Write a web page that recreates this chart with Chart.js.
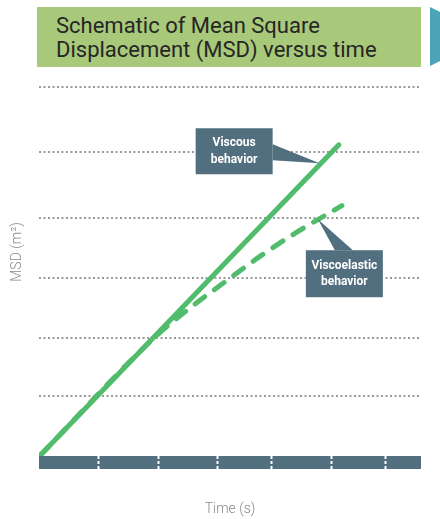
<!DOCTYPE html>
<html>
<head>
<meta charset="utf-8">
<script src="https://cdn.jsdelivr.net/npm/chart.js@4/dist/chart.umd.min.js"></script>
<style>
  html, body { margin: 0; padding: 0; background: #fff; }
  #wrap { position: relative; width: 440px; height: 519px; overflow: hidden; }
  #chart { position: absolute; left: 0; top: 0; }
  #title {
    position: absolute; left: 37px; top: 7px; width: 384px; height: 60px;
    background: #a8c87a; box-sizing: border-box; padding: 6.5px 0 0 19px;
    font-family: Roboto, "Open Sans", sans-serif; font-size: 22px; line-height: 24px;
    color: #262626; font-weight: 400;
  }
  #arrow {
    position: absolute; left: 430px; top: 7px; width: 60px; height: 59px;
    background: #4ba5b6; clip-path: polygon(0 0, 100% 50%, 0 100%);
  }
</style>
</head>
<body>
<div id="wrap">
  <canvas id="chart" width="440" height="519"></canvas>
  <div id="title">Schematic of Mean Square<br>Displacement (MSD) versus time</div>
  <div id="arrow"></div>
</div>
<script>
// ---- data (arbitrary schematic units) ----
const viscousTime = [0.03, 5.0];
const viscousMSD  = [0.02, 5.06];
const viscoelasticTime = [0.03, 1.93, 2.52, 3.10, 3.72, 4.30, 5.05];
const viscoelasticMSD  = [0.02, 1.93, 2.41, 2.83, 3.27, 3.64, 4.07];
const timeTicks = [1, 2, 2.98, 3.88, 4.88, 5.77];
const msdTicks  = [0.98, 1.92, 2.9, 3.87, 4.94, 6];
const timeMax = 6.37;
const msdMax = 6;
const annotationLabels = [["Viscous", "behavior"], ["Viscoelastic", "behavior"]];
const annotationTime = [4.68, 4.65];
const annotationMSD  = [4.76, 3.85];
const xTitle = "Time (s)";
const yTitle = "MSD (m²)";

const GREEN = "#50bc6c";
const SLATE = "#516f7f";

const toPoints = (xs, ys) => xs.map((x, i) => ({ x: x, y: ys[i] }));

// annotation geometry relative to the anchor (tip) in px
const annoGeom = [
  { box: [-124, -35, 77, 46], tail: [[-47, -19], [-47, -3]] },
  { box: [-12, 31, 77, 47], tail: [[17, 31], [35, 31]] }
];

const annotationPlugin = {
  id: "annos",
  afterDatasetsDraw(chart) {
    const ctx = chart.ctx;
    const xs = chart.scales.x, ys = chart.scales.y;
    ctx.save();
    annotationLabels.forEach((lines, i) => {
      const tx = xs.getPixelForValue(annotationTime[i]);
      const ty = ys.getPixelForValue(annotationMSD[i]);
      const g = annoGeom[i];
      ctx.fillStyle = SLATE;
      ctx.beginPath();
      ctx.moveTo(tx, ty);
      ctx.lineTo(tx + g.tail[0][0], ty + g.tail[0][1]);
      ctx.lineTo(tx + g.tail[1][0], ty + g.tail[1][1]);
      ctx.closePath();
      ctx.fill();
      const bx = tx + g.box[0], by = ty + g.box[1], bw = g.box[2], bh = g.box[3];
      ctx.fillRect(bx, by, bw, bh);
      ctx.fillStyle = "#ffffff";
      ctx.font = "bold 12px Roboto, sans-serif";
      ctx.textAlign = "center";
      ctx.textBaseline = "middle";
      const cx = bx + bw / 2, cy = by + bh / 2;
      ctx.fillText(lines[0], cx, cy - 8);
      ctx.fillText(lines[1], cx, cy + 8.5);
    });
    ctx.restore();
  }
};

const yTitlePlugin = {
  id: "ytitle",
  afterDraw(chart) {
    const ctx = chart.ctx;
    ctx.save();
    ctx.translate(17, 252);
    ctx.rotate(-Math.PI / 2);
    ctx.font = "300 14px Roboto, sans-serif";
    ctx.fillStyle = "#8a8a8a";
    ctx.textAlign = "center";
    ctx.textBaseline = "middle";
    ctx.fillText(yTitle, 0, 0);
    ctx.restore();
  }
};

new Chart(document.getElementById("chart"), {
  type: "scatter",
  data: {
    datasets: [
      {
        label: "Viscoelastic behavior",
        data: toPoints(viscoelasticTime, viscoelasticMSD),
        showLine: true,
        borderColor: GREEN,
        borderWidth: 5,
        borderDash: [12, 12],
        borderCapStyle: "round",
        cubicInterpolationMode: "monotone",
        pointRadius: 0,
        pointHoverRadius: 0
      },
      {
        label: "Viscous behavior",
        data: toPoints(viscousTime, viscousMSD),
        showLine: true,
        borderColor: GREEN,
        borderWidth: 5,
        borderCapStyle: "round",
        pointRadius: 0,
        pointHoverRadius: 0
      }
    ]
  },
  options: {
    responsive: false,
    animation: false,
    events: [],
    layout: { padding: { left: 39, right: 19, top: 87, bottom: 0 } },
    plugins: {
      legend: { display: false },
      tooltip: { enabled: false },
      title: {
        display: true,
        position: "bottom",
        fullSize: false,
        text: xTitle,
        color: "#8a8a8a",
        font: { family: "Roboto, sans-serif", size: 14, weight: "300", lineHeight: 1.2 },
        padding: { top: 31.6, bottom: 1.6 }
      }
    },
    scales: {
      x: {
        type: "linear",
        min: 0,
        max: timeMax,
        backgroundColor: SLATE,
        border: { display: false },
        afterBuildTicks: (s) => { s.ticks = timeTicks.map(v => ({ value: v })); },
        ticks: { display: false },
        grid: {
          display: true,
          drawOnChartArea: false,
          drawTicks: true,
          tickLength: 13,
          tickColor: "#ffffff",
          tickWidth: 2,
          tickBorderDash: [3, 2]
        }
      },
      y: {
        type: "linear",
        min: 0,
        max: msdMax,
        border: { display: false, dash: [2, 2.5] },
        afterBuildTicks: (s) => { s.ticks = msdTicks.map(v => ({ value: v })); },
        ticks: { display: false },
        grid: {
          display: true,
          drawTicks: false,
          color: "#9a9a9a",
          lineWidth: 2
        }
      }
    }
  },
  plugins: [annotationPlugin, yTitlePlugin]
});
</script>
</body>
</html>
